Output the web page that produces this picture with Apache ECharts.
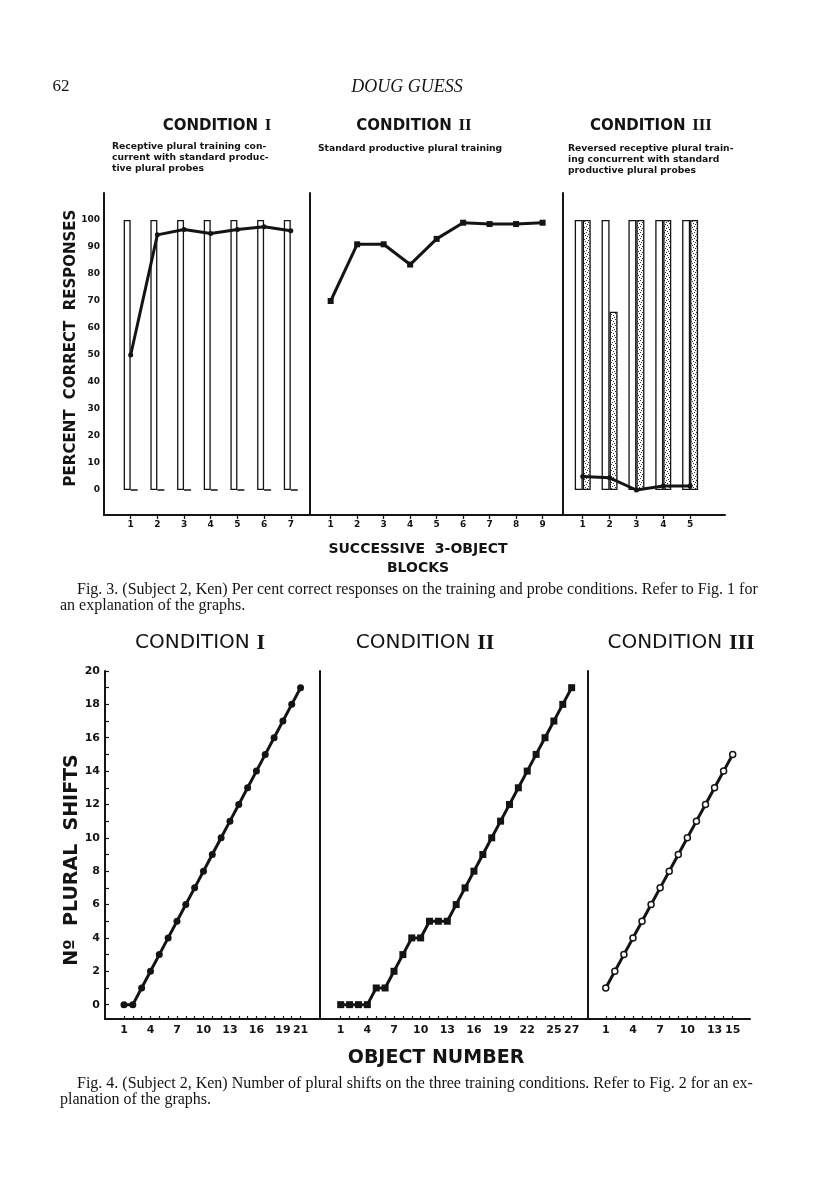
<!DOCTYPE html>
<html><head><meta charset="utf-8">
<script src="https://cdn.jsdelivr.net/npm/echarts@6/dist/echarts.min.js"></script>
<style>html,body{margin:0;padding:0;background:#fff}#c{width:816px;height:1191px}</style>
</head><body><div id="c"></div>
<script>
// ---------- Fig. 3 data (percent correct) ----------
const f3c1Blocks = [1, 2, 3, 4, 5, 6, 7];
const f3c1Probe = [50, 94.5, 96.5, 95, 96.5, 97.5, 96];
const f3c1Train = [100, 100, 100, 100, 100, 100, 100];
const f3c1Reversed = [0, 0, 0, 0, 0, 0, 0];
const f3c2Blocks = [1, 2, 3, 4, 5, 6, 7, 8, 9];
const f3c2Probe = [70, 91, 91, 83.5, 93, 99, 98.5, 98.5, 99];
const f3c3Blocks = [1, 2, 3, 4, 5];
const f3c3Probe = [5, 4.5, 0, 1.5, 1.5];
const f3c3Train = [100, 100, 100, 100, 100];
const f3c3Reversed = [100, 66, 100, 100, 100];
const f3YLabels = [0, 10, 20, 30, 40, 50, 60, 70, 80, 90, 100];

// ---------- Fig. 4 data (number of plural shifts) ----------
const f4c1Objects = [1, 2, 3, 4, 5, 6, 7, 8, 9, 10, 11, 12, 13, 14, 15, 16, 17, 18, 19, 20, 21];
const f4c1Shifts = [0, 0, 1, 2, 3, 4, 5, 6, 7, 8, 9, 10, 11, 12, 13, 14, 15, 16, 17, 18, 19];
const f4c1Labels = [1, 4, 7, 10, 13, 16, 19, 21];
const f4c2Objects = [1, 2, 3, 4, 5, 6, 7, 8, 9, 10, 11, 12, 13, 14, 15, 16, 17, 18, 19, 20, 21, 22, 23, 24, 25, 26, 27];
const f4c2Shifts = [0, 0, 0, 0, 1, 1, 2, 3, 4, 4, 5, 5, 5, 6, 7, 8, 9, 10, 11, 12, 13, 14, 15, 16, 17, 18, 19];
const f4c2Labels = [1, 4, 7, 10, 13, 16, 19, 22, 25, 27];
const f4c3Objects = [1, 2, 3, 4, 5, 6, 7, 8, 9, 10, 11, 12, 13, 14, 15];
const f4c3Shifts = [1, 2, 3, 4, 5, 6, 7, 8, 9, 10, 11, 12, 13, 14, 15];
const f4c3Labels = [1, 4, 7, 10, 13, 15];
const f4YLabels = [0, 2, 4, 6, 8, 10, 12, 14, 16, 18, 20];
const f4YTicks = [0, 1, 2, 3, 4, 5, 6, 7, 8, 9, 10, 11, 12, 13, 14, 15, 16, 17, 18, 19, 20];

const ink = '#141414';
const zip = (a, b) => a.map((v, i) => [v, b[i]]);

// stipple pattern for reversed-training bars
const pc = document.createElement('canvas');
pc.width = 6; pc.height = 6;
const pctx = pc.getContext('2d');
pctx.fillStyle = '#fff'; pctx.fillRect(0, 0, 6, 6);
pctx.fillStyle = '#333';
[[0, 0], [3, 1], [1, 3], [4, 4], [2, 5], [5, 2]].forEach(p => pctx.fillRect(p[0], p[1], 1, 1));
const stipple = { image: pc, repeat: 'repeat' };

const SANS = 'DejaVu Sans';
const SERIF = 'Liberation Serif';

function f3x(min, max, ticks, gi) {
  return {
    type: 'value', gridIndex: gi, min: min, max: max,
    axisLine: { show: true, onZero: false, lineStyle: { color: ink, width: 2 } },
    axisTick: { show: true, customValues: ticks, length: 4, lineStyle: { color: ink, width: 1.3 } },
    axisLabel: { show: true, customValues: ticks, margin: 5, fontSize: 9, fontWeight: 'bold', fontFamily: SANS, color: ink },
    splitLine: { show: false }
  };
}
function f3y(gi, labels) {
  return {
    type: 'value', gridIndex: gi, min: -9.26, max: 110,
    axisLine: { show: true, onZero: false, lineStyle: { color: ink, width: 2 } },
    axisTick: { show: false },
    axisLabel: labels ? { show: true, customValues: f3YLabels, margin: 4, fontSize: 9, fontWeight: 'bold', fontFamily: SANS, color: ink } : { show: false },
    splitLine: { show: false }
  };
}
function f4x(min, max, ticks, labels, gi) {
  return {
    type: 'value', gridIndex: gi, min: min, max: max,
    axisLine: { show: true, onZero: false, lineStyle: { color: ink, width: 2 } },
    axisTick: { show: true, inside: true, customValues: ticks, length: 3, lineStyle: { color: ink, width: 1.2 } },
    axisLabel: { show: true, customValues: labels, margin: 6, fontSize: 11, fontWeight: 'bold', fontFamily: SANS, color: ink },
    splitLine: { show: false }
  };
}
function f4y(gi, labels) {
  return {
    type: 'value', gridIndex: gi, min: -0.86, max: 20,
    axisLine: { show: true, onZero: false, lineStyle: { color: ink, width: 2 } },
    axisTick: labels ? { show: true, inside: true, customValues: f4YTicks, length: 4, lineStyle: { color: ink, width: 1.2 } } : { show: false },
    axisLabel: labels ? { show: true, customValues: f4YLabels, margin: 5, fontSize: 11, fontWeight: 'bold', fontFamily: SANS, color: ink } : { show: false },
    splitLine: { show: false }
  };
}

const openBar = { color: '#fff', borderColor: ink, borderWidth: 1.3 };
const stipBar = { color: stipple, borderColor: ink, borderWidth: 1.3 };
const lineStyle = { color: ink, width: 3 };

function txt(x, y, text, font, extra) {
  return Object.assign({
    type: 'text', x: x, y: y, silent: true,
    style: Object.assign({ text: text, fill: ink, align: 'center', verticalAlign: 'middle' }, font)
  }, extra || {});
}
function condTitle(x, y, numeral, size, weight) {
  return txt(x, y, '{a|CONDITION}  {b|' + numeral + '}', {
    rich: {
      a: { fontFamily: SANS, fontSize: size, fontWeight: weight, fill: ink },
      b: { fontFamily: SERIF, fontSize: size + 2, fontWeight: 'bold', fill: ink }
    }
  });
}
const subFont = { fontFamily: SANS, fontSize: 9.2, fontWeight: 'bold', align: 'left', lineHeight: 11 };
const capFont = { fontFamily: SERIF, fontSize: 16, align: 'left' };

const option = {
  backgroundColor: '#fff',
  animation: false,
  grid: [
    { left: 104, top: 193, width: 206, height: 322 },
    { left: 310, top: 193, width: 253, height: 322 },
    { left: 563, top: 193, width: 162, height: 322 },
    { left: 105, top: 671, width: 215, height: 348 },
    { left: 320, top: 671, width: 268, height: 348 },
    { left: 588, top: 671, width: 162, height: 348 }
  ],
  xAxis: [
    f3x(0, 7.72, f3c1Blocks, 0),
    f3x(0.22, 9.77, f3c2Blocks, 1),
    f3x(0.265, 6.3, f3c3Blocks, 2),
    f4x(-1.15, 23.2, f4c1Objects, f4c1Labels, 3),
    f4x(-1.33, 28.84, f4c2Objects, f4c2Labels, 4),
    f4x(-0.96, 16.91, f4c3Objects, f4c3Labels, 5)
  ],
  yAxis: [f3y(0, true), f3y(1, false), f3y(2, false), f4y(3, true), f4y(4, false), f4y(5, false)],
  series: [
    { type: 'bar', xAxisIndex: 0, yAxisIndex: 0, barWidth: 7, barGap: '0%', itemStyle: openBar, data: zip(f3c1Blocks, f3c1Train) },
    { type: 'bar', xAxisIndex: 0, yAxisIndex: 0, barWidth: 7, barGap: '0%', itemStyle: stipBar, data: zip(f3c1Blocks, f3c1Reversed) },
    { type: 'line', xAxisIndex: 0, yAxisIndex: 0, z: 5, symbol: 'circle', symbolSize: 5, itemStyle: { color: ink }, lineStyle: lineStyle, data: zip(f3c1Blocks, f3c1Probe) },
    { type: 'line', xAxisIndex: 1, yAxisIndex: 1, z: 5, symbol: 'rect', symbolSize: 6, itemStyle: { color: ink }, lineStyle: lineStyle, data: zip(f3c2Blocks, f3c2Probe) },
    { type: 'bar', xAxisIndex: 2, yAxisIndex: 2, barWidth: 8, barGap: '0%', itemStyle: openBar, data: zip(f3c3Blocks, f3c3Train) },
    { type: 'bar', xAxisIndex: 2, yAxisIndex: 2, barWidth: 8, barGap: '0%', itemStyle: stipBar, data: zip(f3c3Blocks, f3c3Reversed) },
    { type: 'line', xAxisIndex: 2, yAxisIndex: 2, z: 5, symbol: 'circle', symbolSize: 5, itemStyle: { color: ink }, lineStyle: lineStyle, data: zip(f3c3Blocks, f3c3Probe) },
    { type: 'line', xAxisIndex: 3, yAxisIndex: 3, z: 5, symbol: 'circle', symbolSize: 7, itemStyle: { color: ink }, lineStyle: lineStyle, data: zip(f4c1Objects, f4c1Shifts) },
    { type: 'line', xAxisIndex: 4, yAxisIndex: 4, z: 5, symbol: 'rect', symbolSize: 7, itemStyle: { color: ink }, lineStyle: lineStyle, data: zip(f4c2Objects, f4c2Shifts) },
    { type: 'line', xAxisIndex: 5, yAxisIndex: 5, z: 5, symbol: 'circle', symbolSize: 6, itemStyle: { color: '#fff', borderColor: ink, borderWidth: 1.5 }, lineStyle: lineStyle, data: zip(f4c3Objects, f4c3Shifts) }
  ],
  graphic: [
    txt(61, 87, '62', { fontFamily: SERIF, fontSize: 17 }),
    txt(407, 87, 'DOUG GUESS', { fontFamily: SERIF, fontSize: 18, fontStyle: 'italic' }),
    condTitle(217, 126, 'I', 15, 'bold'),
    condTitle(414, 126, 'II', 15, 'bold'),
    condTitle(651, 126, 'III', 15, 'bold'),
    txt(112, 158, 'Receptive plural training con-\ncurrent with standard produc-\ntive plural probes', subFont),
    txt(318, 149, 'Standard productive plural training', subFont),
    txt(568, 160, 'Reversed receptive plural train-\ning concurrent with standard\nproductive plural probes', subFont),
    txt(71, 348, 'PERCENT  CORRECT  RESPONSES', { fontFamily: SANS, fontSize: 15, fontWeight: 'bold' }, { rotation: Math.PI / 2 }),
    txt(418, 549, 'SUCCESSIVE  3-OBJECT', { fontFamily: SANS, fontSize: 14, fontWeight: 'bold' }),
    txt(418, 568, 'BLOCKS', { fontFamily: SANS, fontSize: 14, fontWeight: 'bold' }),
    txt(77, 590, 'Fig. 3. (Subject 2, Ken) Per cent correct responses on the training and probe conditions. Refer to Fig. 1 for', capFont),
    txt(60, 606, 'an explanation of the graphs.', capFont),
    condTitle(200, 643, 'I', 20, 'normal'),
    condTitle(425, 643, 'II', 20, 'normal'),
    condTitle(681, 643, 'III', 20, 'normal'),
    txt(72, 860, 'Nº  PLURAL  SHIFTS', { fontFamily: SANS, fontSize: 19, fontWeight: 'bold' }, { rotation: Math.PI / 2 }),
    txt(436, 1058, 'OBJECT NUMBER', { fontFamily: SANS, fontSize: 19, fontWeight: 'bold' }),
    txt(77, 1084, 'Fig. 4. (Subject 2, Ken) Number of plural shifts on the three training conditions. Refer to Fig. 2 for an ex-', capFont),
    txt(60, 1100, 'planation of the graphs.', capFont)
  ]
};

const chart = echarts.init(document.getElementById('c'), null, { renderer: 'canvas' });
chart.setOption(option);
</script>
</body></html>
